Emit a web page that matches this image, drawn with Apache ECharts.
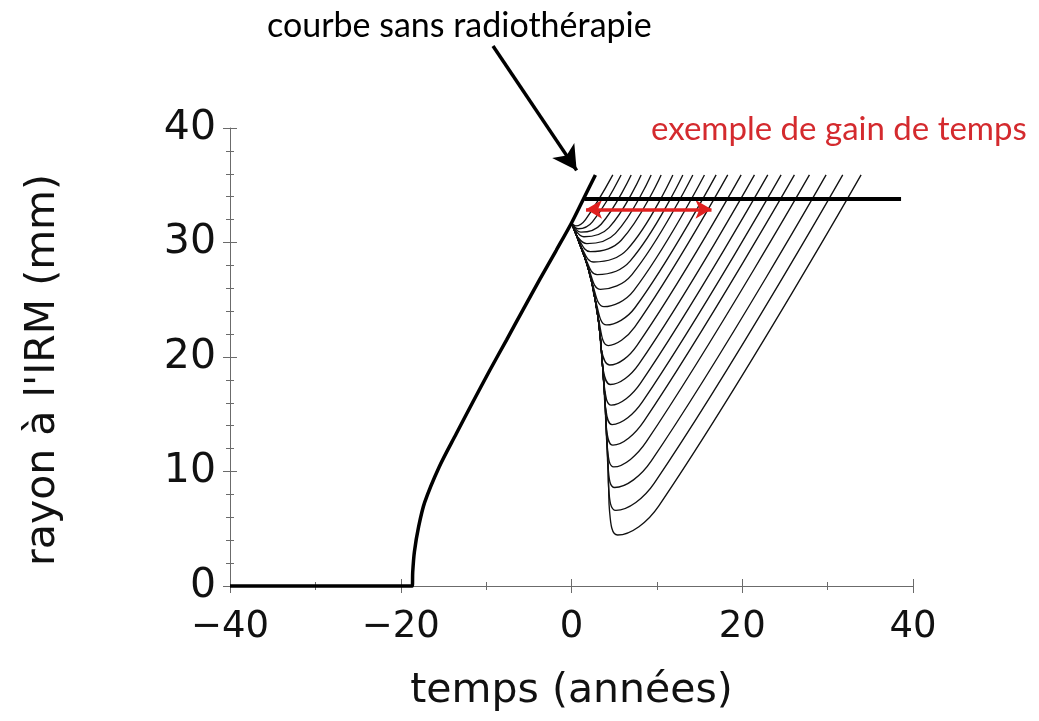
<!DOCTYPE html>
<html>
<head>
<meta charset="utf-8">
<script src="https://cdn.jsdelivr.net/npm/echarts@6/dist/echarts.min.js"></script>
<style>
  html, body { margin: 0; padding: 0; background: #fff; }
  #chart { width: 1039px; height: 721px; }
</style>
</head>
<body>
<div id="chart"></div>
<script>
// Axis ticks
const xTicks = [-40, -20, 0, 20, 40];
const yTicks = [0, 10, 20, 30, 40];

// Tumour radius without treatment (years, mm)
const untreated = [
  [-40, 0], [-18.65, 0], [-18.6, 1.2], [-18.4, 3.0], [-17.9, 5.2], [-17.2, 7.3],
  [-15.5, 10.4], [-13.5, 13.3], [-11.6, 16.0], [-9.6, 18.8], [-7.6, 21.5],
  [-5.7, 24.1], [-3.7, 26.8], [-1.8, 29.3], [0, 31.7], [1.4, 33.8], [2.8, 35.9]
];

// Shared descending branch after radiotherapy starts
const shrinkage = [
  [0, 31.7], [0.25, 31.25], [0.6, 30.6], [1.0, 29.8], [1.45, 28.9], [1.9, 27.9],
  [2.35, 26.6], [2.75, 25.1], [3.1, 23.5], [3.35, 21.9], [3.5, 20.6], [3.65, 19.1],
  [3.8, 17.6], [3.95, 15.8], [4.05, 14.1], [4.17, 12.3], [4.28, 10.4], [4.35, 8.6],
  [4.45, 6.6], [4.6, 5.0]
];

// Regrowth curves, deepest response first
const leaveY = [5.8, 7.8, 9.8, 11.5, 13.4, 15.1, 16.8, 18.6, 20.3, 22.0, 23.7, 25.2, 26.6, 27.9, 28.9, 29.8, 30.5, 31.0, 31.3, 31.5, 31.6];
const lowX   = [5.4, 5.2, 5.05, 4.95, 4.85, 4.75, 4.65, 4.55, 4.45, 4.3, 4.1, 3.8, 3.4, 3.0, 2.6, 2.2, 1.8, 1.45, 1.1, 0.8, 0.5];
const lowY   = [4.45, 6.6, 8.6, 10.4, 12.3, 14.1, 15.8, 17.6, 19.3, 21.0, 22.8, 24.4, 25.9, 27.2, 28.3, 29.2, 29.9, 30.5, 30.9, 31.2, 31.45];
const kneeX  = [10.23, 9.72, 9.33, 8.77, 8.49, 8.32, 8.07, 7.91, 7.66, 7.40, 7.43, 7.29, 7.08, 6.89, 6.54, 5.83, 5.15, 4.39, 3.47, 2.45, 1.64];
const kneeY  = [7.0, 9.0, 10.9, 12.6, 14.4, 16.1, 17.7, 19.4, 21.0, 22.6, 24.3, 25.8, 27.2, 28.4, 29.4, 30.2, 30.8, 31.3, 31.6, 31.8, 32.0];
const endX   = [33.92, 31.77, 29.82, 27.87, 26.11, 24.55, 22.99, 21.43, 19.87, 18.30, 16.94, 15.57, 14.21, 13.04, 11.87, 10.50, 9.33, 8.16, 6.99, 5.81, 4.84];
const endY   = 35.9;

// Detection threshold and example time gain
const thresholdX = [1.5, 38.6];
const thresholdY = 33.8;
const gainX = [1.7, 16.4];
const gainY = 32.9;

// Pointer from the caption down to the untreated curve
const pointerTo = [0.6, 36.3];

const AXIS_FONT = 'DejaVu Sans';
const NOTE_FONT = 'Lato';
const axisGray = '#6b6b6b';

function fmtX(v) {
  return v < 0 ? '\u2212' + (-v) : String(v);
}

const xMin = xTicks[0], xMax = xTicks[xTicks.length - 1], xStep = xTicks[1] - xTicks[0];
const yMin = yTicks[0], yMax = yTicks[yTicks.length - 1], yStep = yTicks[1] - yTicks[0];

const regrowthSeries = endX.map(function (_, i) {
  const pts = shrinkage.filter(function (p) { return p[1] > leaveY[i]; })
    .concat([[lowX[i], lowY[i]], [kneeX[i], kneeY[i]], [endX[i], endY]]);
  return {
    type: 'line',
    data: pts,
    smooth: 0.4,
    showSymbol: false,
    silent: true,
    clip: false,
    lineStyle: { color: '#111', width: 1.35 },
    z: 3
  };
});

const tickStyle = { color: axisGray, width: 1 };

const option = {
  animation: false,
  backgroundColor: '#fff',
  grid: { left: 230, right: 126, top: 128, bottom: 135, containLabel: false },
  xAxis: [
    {
      type: 'value', min: xMin, max: xMax, interval: xStep, position: 'bottom',
      name: 'temps (années)', nameLocation: 'middle', nameGap: 85,
      nameTextStyle: { fontFamily: AXIS_FONT, fontSize: 41, color: '#111' },
      axisLine: { show: true, onZero: false, lineStyle: tickStyle },
      axisTick: { show: true, length: 7, lineStyle: tickStyle },
      minorTick: { show: true, splitNumber: 2, length: 4, lineStyle: tickStyle },
      axisLabel: { formatter: fmtX, margin: 23, fontFamily: AXIS_FONT, fontSize: 37, color: '#111' },
      splitLine: { show: false }
    },
    {
      type: 'value', min: xMin, max: xMax, interval: xStep, position: 'bottom', offset: 0,
      axisLine: { show: false, onZero: false },
      axisTick: { show: true, inside: true, length: 7, lineStyle: tickStyle },
      minorTick: { show: true, splitNumber: 2, length: 4, lineStyle: tickStyle },
      axisLabel: { show: false },
      splitLine: { show: false }
    }
  ],
  yAxis: [
    {
      type: 'value', min: yMin, max: yMax, interval: yStep, position: 'left',
      name: "rayon à l'IRM (mm)", nameLocation: 'middle', nameGap: 166, nameRotate: 90,
      nameTextStyle: { fontFamily: AXIS_FONT, fontSize: 41, color: '#111', padding: [0, 26, 0, 0] },
      axisLine: { show: true, onZero: false, lineStyle: tickStyle },
      axisTick: { show: true, length: 7, lineStyle: tickStyle },
      minorTick: { show: true, splitNumber: 5, length: 4, lineStyle: tickStyle },
      axisLabel: { margin: 14, fontFamily: AXIS_FONT, fontSize: 41, color: '#111' },
      splitLine: { show: false }
    },
    {
      type: 'value', min: yMin, max: yMax, interval: yStep, position: 'left', offset: 0,
      axisLine: { show: false, onZero: false },
      axisTick: { show: true, inside: true, length: 7, lineStyle: tickStyle },
      minorTick: { show: true, splitNumber: 5, length: 4, lineStyle: tickStyle },
      axisLabel: { show: false },
      splitLine: { show: false }
    }
  ],
  series: regrowthSeries.concat([
    {
      type: 'line',
      data: untreated,
      smooth: 0.3,
      showSymbol: false,
      silent: true,
      clip: false,
      lineStyle: { color: '#000', width: 3.5 },
      z: 5
    },
    {
      type: 'line',
      data: thresholdX.map(function (x) { return [x, thresholdY]; }),
      showSymbol: false,
      silent: true,
      clip: false,
      lineStyle: { color: '#000', width: 4 },
      z: 6
    },
    {
      type: 'line',
      data: [],
      clip: false,
      silent: true,
      markLine: {
        silent: true,
        animation: false,
        symbol: ['arrow', 'arrow'],
        symbolSize: [14, 16],
        label: { show: false },
        lineStyle: { color: '#e0201f', width: 3.5, type: 'solid' },
        data: [[{ coord: [gainX[0], gainY] }, { coord: [gainX[1], gainY] }]]
      },
      z: 8
    },
    {
      type: 'line',
      data: [],
      clip: false,
      silent: true,
      markLine: {
        silent: true,
        animation: false,
        symbol: ['none', 'arrow'],
        symbolSize: [20, 24],
        label: { show: false },
        lineStyle: { color: '#000', width: 3.5, type: 'solid' },
        data: [[{ x: 493, y: 46 }, { coord: pointerTo }]]
      },
      z: 8
    }
  ]),
  graphic: [
    {
      type: 'text', left: 267, top: 9, silent: true,
      style: { text: 'courbe sans radiothérapie', fontFamily: NOTE_FONT, fontSize: 34, fill: '#000' }
    },
    {
      type: 'text', left: 651, top: 113, silent: true,
      style: { text: 'exemple de gain de temps', fontFamily: NOTE_FONT, fontSize: 33, fill: '#d42a2e' }
    }
  ]
};

const chart = echarts.init(document.getElementById('chart'), null, { renderer: 'canvas' });
chart.setOption(option);
</script>
</body>
</html>
